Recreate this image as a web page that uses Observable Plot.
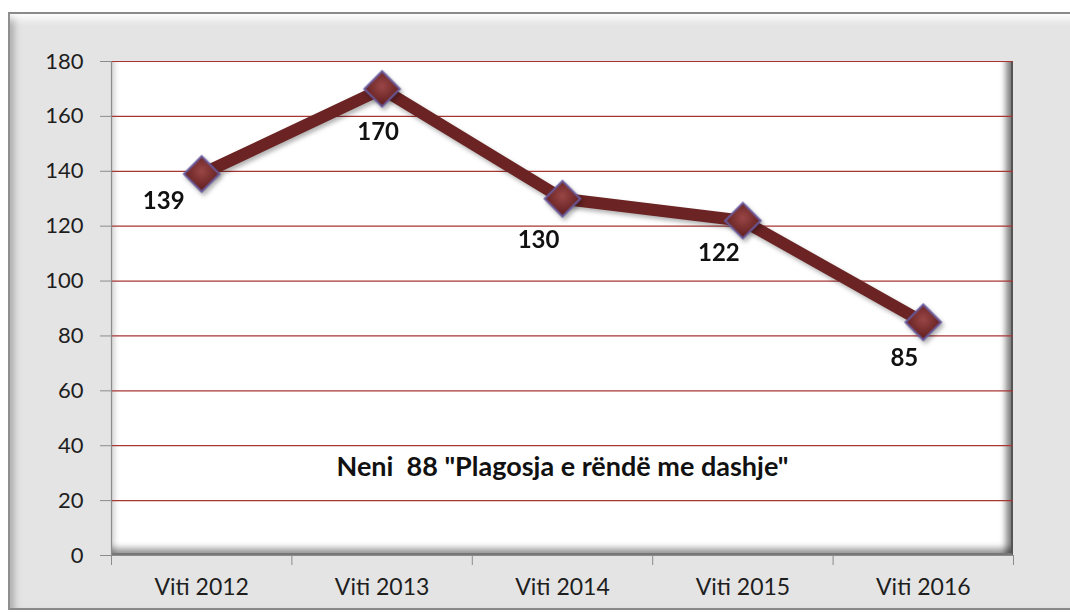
<!DOCTYPE html>
<html>
<head>
<meta charset="utf-8">
<script src="https://cdn.jsdelivr.net/npm/d3@7"></script>
<script src="https://cdn.jsdelivr.net/npm/@observablehq/plot@0.6"></script>
<style>
  html, body { margin: 0; padding: 0; background: #fff; }
  #wrap { position: relative; width: 1070px; height: 613px; overflow: hidden; }
  #outer {
    position: absolute; left: 8px; top: 12px; width: 1090px; height: 598px;
    box-sizing: border-box; background: #e4e4e4;
    border-top: 2px solid #8a8a8a; border-left: 2px solid #8f8f8f; border-bottom: 2px solid #8a8a8a;
    box-shadow: inset 0 11px 8px -6px #ffffff, inset 9px 0 7px -5px #a8a8a8;
  }
  #plotbg {
    position: absolute; left: 111px; top: 61px; width: 902px; height: 494px;
    box-sizing: border-box; background: #fff;
    border-right: 2px solid #555; border-bottom: 2px solid #777;
    box-shadow: inset 7px 0 6px -4px rgba(0,0,0,.22), inset 0 -10px 6px -5px rgba(0,0,0,.38), inset -10px 0 6px -5px rgba(0,0,0,.5);
  }
  #chart { position: absolute; left: 0; top: 0; }
</style>
</head>
<body>
<svg width="0" height="0" style="position:absolute">
  <defs>
    <radialGradient id="dg" cx="50%" cy="42%" r="60%">
      <stop offset="0%" stop-color="#9a4646"/>
      <stop offset="100%" stop-color="#5a1a1a"/>
    </radialGradient>
  </defs>
</svg>
<div id="wrap">
  <div id="outer"></div>
  <div id="plotbg"></div>
  <div id="chart"></div>
</div>
<script>
const categories = ["Viti 2012", "Viti 2013", "Viti 2014", "Viti 2015", "Viti 2016"];
const values = [139, 170, 130, 122, 85];
const yTicks = [0, 20, 40, 60, 80, 100, 120, 140, 160, 180];
const title = 'Neni  88 "Plagosja e rëndë me dashje"';
// label nudges in pixels (style, not data)
const labelNudge = [[-38, 27], [-4, 43], [-24, 42], [-24, 33], [-19, 36]];

const xPos = (d, i) => i + 0.5;
const boundaries = d3.range(categories.length + 1);
const centers = categories.map((_, i) => i + 0.5);

const chart = Plot.plot({
  width: 1070,
  height: 613,
  marginLeft: 111,
  marginRight: 57,
  marginTop: 61,
  marginBottom: 58,
  style: { background: "transparent", fontFamily: "Lato, 'Open Sans', sans-serif", fontSize: "22px", color: "#1e1e1e", overflow: "visible" },
  x: { type: "linear", domain: [0, categories.length], axis: null },
  y: { domain: [0, 180], axis: null },
  marks: [
    Plot.gridY(yTicks.filter(t => t > 0), { stroke: "#a83434", strokeOpacity: 1, strokeWidth: 1.2 }),
    Plot.ruleY([0], { stroke: "#8c8c8c", strokeWidth: 1.2 }),
    Plot.ruleX([0], { stroke: "#8c8c8c", strokeWidth: 1.2 }),
    Plot.axisY(yTicks, { tickSize: 11, tickPadding: 17, stroke: "#8c8c8c", fill: "#1e1e1e", fontSize: 22 }),
    Plot.axisX(boundaries, { tickSize: 10, tickFormat: () => "", stroke: "#8c8c8c" }),
    Plot.axisX(centers, { tickSize: 0, tickPadding: 23, tickFormat: v => categories[Math.floor(v)], fill: "#1e1e1e", fontSize: 23 }),
    Plot.line(values, { x: xPos, y: d => d, stroke: "#6b2323", strokeWidth: 12, strokeLinejoin: "round" }),
    Plot.dot(values, { x: xPos, y: d => d, symbol: "diamond2", r: 16, fill: "url(#dg)", stroke: "#6a5a9c", strokeWidth: 2 }),
    ...values.map((v, i) => Plot.text([v], { x: () => i + 0.5, y: d => d, text: d => String(d), dx: labelNudge[i][0], dy: labelNudge[i][1], fontWeight: "bold", fontSize: 24, fill: "#111" })),
    Plot.text([title], { frameAnchor: "bottom", dy: -80, fontWeight: "bold", fontSize: 27, fill: "#111" })
  ]
});
document.getElementById("chart").appendChild(chart);
d3.select(chart).selectAll('g[aria-label="line"], g[aria-label="dot"]').style("filter", "drop-shadow(2px 3px 2px rgba(0,0,0,0.3))");
</script>
</body>
</html>
